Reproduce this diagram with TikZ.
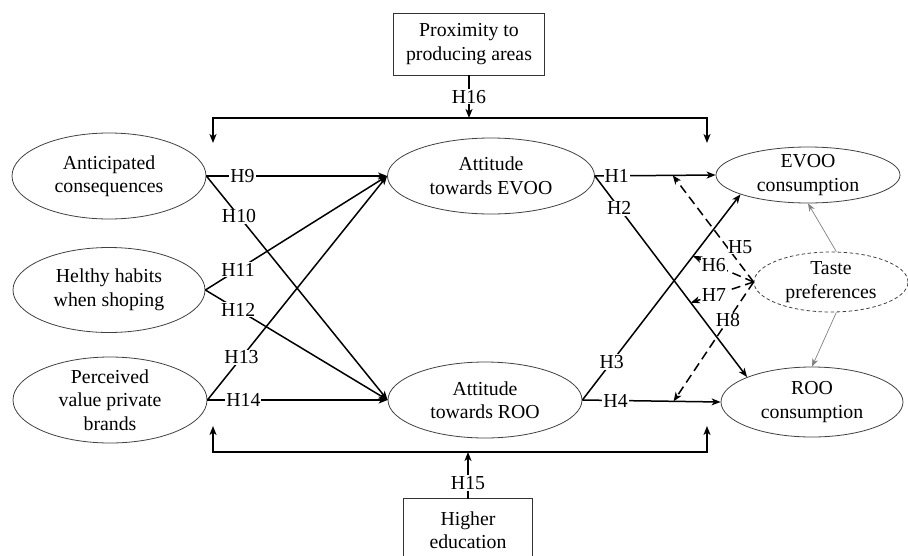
\documentclass[tikz,border=0pt]{standalone}
\usepackage{fontspec}
\setmainfont{Liberation Serif}
\usetikzlibrary{shapes.geometric,arrows.meta}
\newcommand\dfs{\fontsize{19.8pt}{23.5pt}\selectfont}
\begin{document}
\begin{tikzpicture}[x=1pt,y=-1pt,
  ell/.style={ellipse, draw=black!75, line width=0.8pt, inner sep=0pt},
  txt/.style={align=center, font=\dfs, inner sep=0pt},
  boxn/.style={rectangle, draw=black!80, line width=0.9pt, align=center, font=\dfs, inner sep=0pt},
  lab/.style={fill=white, inner sep=1pt, font=\dfs},
  arr/.style={line width=1.5pt, -{Stealth[length=9pt,width=7pt,inset=2.5pt]}},
  darr/.style={arr, dash pattern=on 9pt off 5pt},
  garr/.style={line width=0.7pt, draw=black!50, -{Stealth[length=8pt,width=6pt,inset=2.5pt]}}
]
\useasboundingbox (0,0) rectangle (908,555);

% constructs
\node[ell, minimum width=194pt, minimum height=86pt, label={[txt]center:{Anticipated\\consequences}}] (AC) at (109,176) {};
\node[ell, minimum width=192pt, minimum height=85pt, label={[txt]center:{Helthy habits\\when shoping}}] (HH) at (109,290) {};
\node[ell, minimum width=194pt, minimum height=86pt, label={[txt]center:{Perceived\\value private\\brands}}] (PV) at (110,400) {};
\node[ell, minimum width=207pt, minimum height=76pt, label={[txt]center:{Attitude\\towards EVOO}}] (AE) at (491,176) {};
\node[ell, minimum width=194pt, minimum height=76pt, label={[txt]center:{Attitude\\towards ROO}}] (AR) at (485,400) {};
\node[ell, minimum width=184pt, minimum height=56pt, label={[txt]center:{EVOO\\consumption}}] (EC) at (808,175) {};
\node[ell, minimum width=182pt, minimum height=70pt, label={[txt]center:{ROO\\consumption}}] (RC) at (812,402) {};
\node[ell, dashed, dash pattern=on 3.5pt off 2.5pt, minimum width=154pt, minimum height=60pt, label={[txt]center:{Taste\\preferences}}] (TP) at (831,282) {};

\node[boxn, minimum width=151pt, minimum height=62pt] (PX) at (469,44) {Proximity to\\producing areas};
\node[rectangle, align=center, font=\dfs, inner sep=0pt, minimum width=128pt, minimum height=62pt] (HE) at (468,530) {Higher\\education};
\draw[black!80, line width=0.9pt] (HE.south west) -- (HE.north west) -- (HE.north east) -- (HE.south east);

% bracket coordinates
\coordinate (t16) at (469,118);
\coordinate (tld) at (213,143);
\coordinate (trd) at (707,143);
\coordinate (b15) at (468,452);
\coordinate (bld) at (213,426);
\coordinate (brd) at (707,426);

% top moderator
\draw[arr] (PX.south) -- node[lab,pos=0.5]{H16} (t16);
\draw[arr] (t16) -| (tld);
\draw[arr] (t16) -| (trd);
% bottom moderator
\draw[arr] (HE.north) -- node[lab,pos=0.34]{H15} (b15);
\draw[arr] (b15) -| (bld);
\draw[arr] (b15) -| (brd);

% left paths
\draw[arr] (AC.east) -- node[lab,pos=0.2]{H9} (AE.west);
\draw[arr] (AC.east) -- node[lab,pos=0.18]{H10} (AR.west);
\draw[arr] (HH.east) -- node[lab,pos=0.18]{H11} (AE.west);
\draw[arr] (HH.east) -- node[lab,pos=0.18]{H12} (AR.west);
\draw[arr] (PV.east) -- node[lab,pos=0.19]{H13} (AE.west);
\draw[arr] (PV.east) -- node[lab,pos=0.2]{H14} (AR.west);

% right paths
\draw[arr] (AE.east) -- node[lab,pos=0.18]{H1} (EC.west);
\draw[arr] (AE.east) -- node[lab,pos=0.16]{H2} (RC.159);
\draw[arr] (AR.east) -- node[lab,pos=0.185]{H3} (EC.196);
\draw[arr] (AR.east) -- node[lab,pos=0.24]{H4} (RC.west);

% points on the paths for moderation
\path (AE.east) -- coordinate[pos=0.645] (m5) (EC.west);
\path (AR.east) -- coordinate[pos=0.70] (m6) (EC.196);
\path (AE.east) -- coordinate[pos=0.63] (m7) (RC.159);
\path (AR.east) -- coordinate[pos=0.66] (m8) (RC.west);

\draw[darr] (TP.west) -- node[lab,pos=0.33,anchor=west,inner sep=0.5pt]{H5} (m5);
\draw[darr] (TP.west) -- node[lab,pos=0.66]{H6} (m6);
\draw[darr] (TP.west) -- node[lab,pos=0.63]{H7} (m7);
\draw[darr] (TP.west) -- node[lab,pos=0.32]{H8} (m8);

% taste to consumption
\draw[garr] (TP.80) -- (EC.south);
\draw[garr] (TP.-80) -- (RC.north);
\end{tikzpicture}
\end{document}
